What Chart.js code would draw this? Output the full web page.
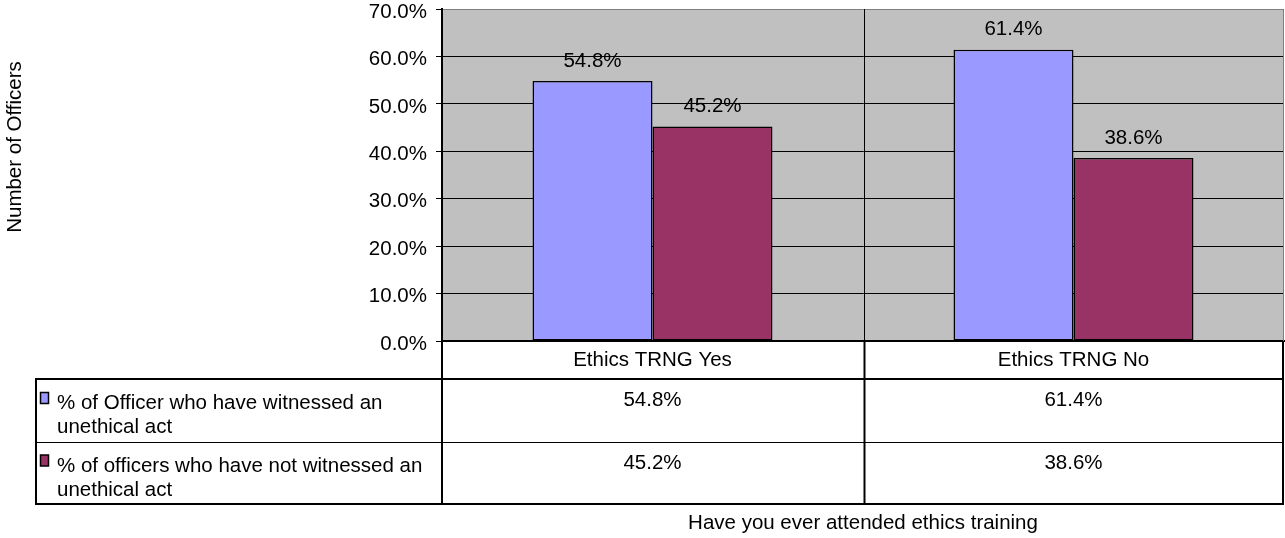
<!DOCTYPE html>
<html>
<head>
<meta charset="utf-8">
<title>Have you ever attended ethics training</title>
<script src="https://cdn.jsdelivr.net/npm/chart.js@4.4.0/dist/chart.umd.min.js"></script>
<style>
  body { margin: 0; background: #fff; }
  #wrap { width: 1285px; height: 538px; position: relative; }
</style>
</head>
<body>
<div id="wrap"><canvas id="myChart"></canvas></div>
<script>
// data
var categories = ['Ethics TRNG Yes', 'Ethics TRNG No'];
var seriesNames = ['% of Officer who have witnessed an unethical act',
                   '% of officers who have not witnessed an unethical act'];
var witnessed = [54.8, 61.4];
var notWitnessed = [45.2, 38.6];
var yTicks = [0, 10, 20, 30, 40, 50, 60, 70];
var seriesColors = ['#9999FF', '#993366'];
var yTitle = 'Number of Officers';
var xTitle = 'Have you ever attended ethics training';

var FONT = '"Liberation Sans", Arial, sans-serif';
var FSIZE = 20.5;

function pct(v){
  return v.toFixed(1) + '%';
}

// wraps text to lines that fit maxWidth
function wrapText(ctx, text, maxWidth){
  var words = text.split(' ');
  var lines = [];
  var cur = '';
  for (var i = 0; i < words.length; i++){
    var test = cur ? cur + ' ' + words[i] : words[i];
    if (ctx.measureText(test).width > maxWidth && cur){
      lines.push(cur);
      cur = words[i];
    } else {
      cur = test;
    }
  }
  if (cur) lines.push(cur);
  return lines;
}

var plotBg = {
  id: 'plotBg',
  beforeDraw: function(chart){
    var ctx = chart.ctx, a = chart.chartArea;
    ctx.save();
    ctx.fillStyle = '#fff';
    ctx.fillRect(0, 0, chart.width, chart.height);
    ctx.fillStyle = '#C0C0C0';
    ctx.fillRect(a.left, a.top, a.right - a.left, a.bottom - a.top);
    ctx.restore();
  }
};

var barLabels = {
  id: 'barLabels',
  afterDatasetsDraw: function(chart){
    var ctx = chart.ctx;
    ctx.save();
    ctx.font = FSIZE + 'px ' + FONT;
    ctx.fillStyle = '#000';
    ctx.textAlign = 'center';
    ctx.textBaseline = 'middle';
    chart.data.datasets.forEach(function(ds, i){
      chart.getDatasetMeta(i).data.forEach(function(bar, j){
        ctx.fillText(pct(ds.data[j]), bar.x, bar.y - 20);
      });
    });
    ctx.restore();
  }
};

// Excel style data table under the plot + rotated y title
var dataTable = {
  id: 'dataTable',
  afterDraw: function(chart){
    var ctx = chart.ctx, a = chart.chartArea, xs = chart.scales.x;
    var rowTop = 379, rowH = 62.5, tableLeft = 36;
    var tableBottom = rowTop + rowH * seriesNames.length;
    var mid = (xs.getPixelForValue(0) + xs.getPixelForValue(1)) / 2;
    function line(x1, y1, x2, y2){
      ctx.beginPath(); ctx.moveTo(x1, y1); ctx.lineTo(x2, y2); ctx.stroke();
    }
    ctx.save();
    ctx.strokeStyle = '#808080'; ctx.lineWidth = 1;
    line(a.right - 0.5, a.top, a.right - 0.5, a.bottom);
    ctx.strokeStyle = '#000';
    line(Math.round(mid) + 1.5, a.top, Math.round(mid) + 1.5, a.bottom);
    ctx.lineWidth = 2;
    line(Math.round(mid) + 1.5, a.bottom, Math.round(mid) + 1.5, tableBottom);
    line(a.left, a.bottom, a.left, tableBottom + 1);
    line(a.right - 1, a.bottom, a.right - 1, tableBottom + 1);
    line(tableLeft, rowTop, a.right, rowTop);
    line(tableLeft, tableBottom, a.right, tableBottom);
    line(tableLeft, rowTop - 1, tableLeft, tableBottom + 1);
    ctx.lineWidth = 1;
    for (var r = 1; r < seriesNames.length; r++){
      line(tableLeft, Math.round(rowTop + rowH * r) + 0.5, a.right, Math.round(rowTop + rowH * r) + 0.5);
    }

    ctx.font = FSIZE + 'px ' + FONT;
    ctx.fillStyle = '#000';
    ctx.textBaseline = 'alphabetic';
    chart.data.datasets.forEach(function(ds, i){
      var top = rowTop + rowH * i;
      // legend key
      ctx.fillStyle = ds.backgroundColor;
      ctx.fillRect(40.5, top + 13.5, 8, 11);
      ctx.lineWidth = 1.5;
      ctx.strokeStyle = '#000';
      ctx.strokeRect(40.5, top + 13.5, 8, 11);
      ctx.fillStyle = '#000';
      ctx.textAlign = 'left';
      var lines = wrapText(ctx, seriesNames[i], a.left - 58 - 4);
      lines.forEach(function(txt, k){
        ctx.fillText(txt, 57, top + 30 + k * 24);
      });
      ctx.textAlign = 'center';
      ds.data.forEach(function(v, j){
        ctx.fillText(pct(v), xs.getPixelForValue(j), top + 27);
      });
    });

    // y axis title
    ctx.translate(15, 147);
    ctx.rotate(-Math.PI / 2);
    ctx.textAlign = 'center';
    ctx.textBaseline = 'middle';
    ctx.fillText(yTitle, 0, 0);
    ctx.restore();
  }
};

var ctx = document.getElementById('myChart').getContext('2d');
var chart = new Chart(ctx, {
  type: 'bar',
  data: {
    labels: categories,
    datasets: [{
      label: seriesNames[0],
      data: witnessed,
      backgroundColor: seriesColors[0],
      borderColor: '#000',
      borderWidth: 1.5,
      borderSkipped: false
    }, {
      label: seriesNames[1],
      data: notWitnessed,
      backgroundColor: seriesColors[1],
      borderColor: '#000',
      borderWidth: 1.5,
      borderSkipped: false
    }]
  },
  options: {
    responsive: true,
    maintainAspectRatio: false,
    devicePixelRatio: 1,
    animation: false,
    layout: { padding: { top: 9, right: 1, left: 0, bottom: 0 } },
    datasets: { bar: { categoryPercentage: 0.57, barPercentage: 1 } },
    plugins: {
      legend: { display: false },
      tooltip: { enabled: false }
    },
    scales: {
      x: {
        afterFit: function(s){ s.height = 197; s.paddingLeft = 0; s.paddingRight = 0; },
        grid: { display: false, drawTicks: false },
        border: { display: true, color: '#000', width: 2 },
        ticks: { color: '#000', padding: 7, font: { family: FONT, size: FSIZE } },
        title: {
          display: true,
          text: xTitle,
          color: '#000',
          padding: { top: 0, bottom: 2 },
          font: { family: FONT, size: FSIZE }
        }
      },
      y: {
        min: 0,
        max: 70,
        afterFit: function(s){ s.width = 442; s.paddingTop = 0; s.paddingBottom = 0; },
        afterBuildTicks: function(s){
          s.ticks = yTicks.map(function(v){ return { value: v }; });
        },
        grid: {
          color: function(c){ return c.tick && c.tick.value === 70 ? '#808080' : '#000'; },
          tickColor: '#000',
          lineWidth: 1,
          tickLength: 6
        },
        border: { display: true, color: '#000', width: 2 },
        ticks: {
          color: '#000',
          padding: 9,
          labelOffset: 3,
          font: { family: FONT, size: FSIZE },
          callback: function(v){ return pct(v); }
        }
      }
    }
  },
  plugins: [plotBg, barLabels, dataTable]
});
</script>
</body>
</html>
